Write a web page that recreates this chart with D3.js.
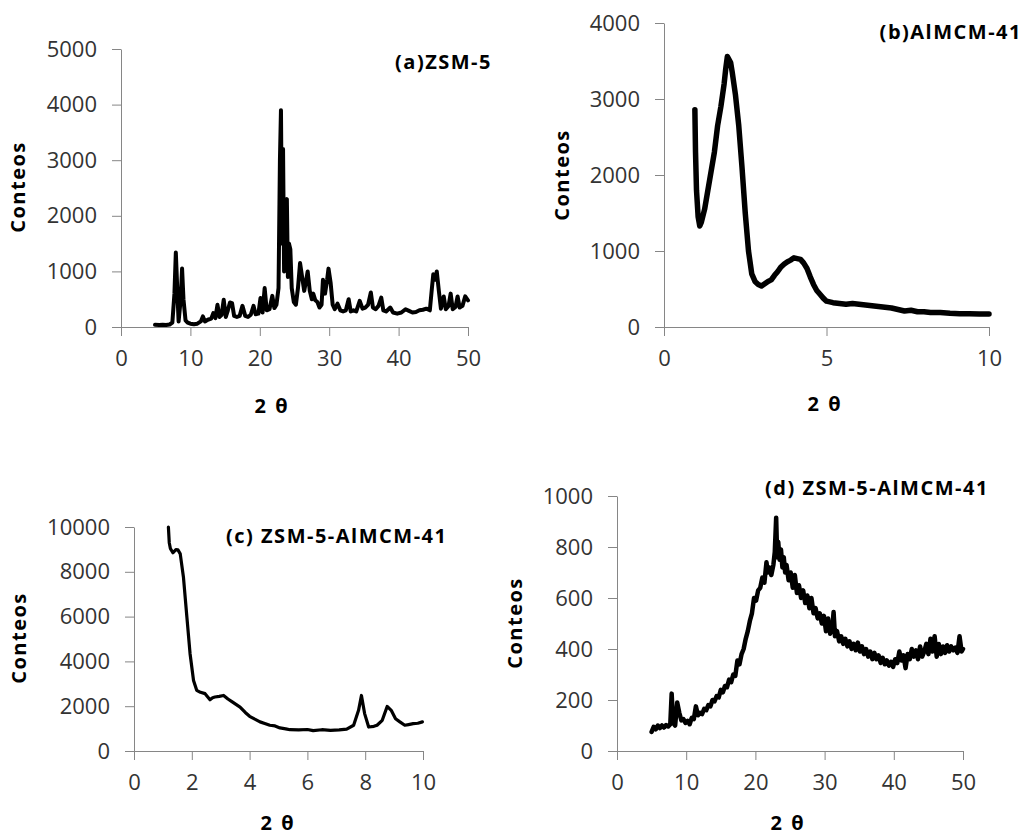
<!DOCTYPE html>
<meta charset="utf-8">
<style>
body { margin: 0; background: #fff; }
.tick text { font: 22px "Open Sans", sans-serif; fill: #333; }
.axis path, .axis line { stroke: #868686; }
.lbl { font: bold 20px "Open Sans", sans-serif; fill: #000; letter-spacing: 1.5px; }
</style>
<body>
<script src="https://cdn.jsdelivr.net/npm/d3@7"></script>
<script>

// (a) ZSM-5
var zsm5 = [[4.9,40],[5.5,35],[6,40],[6.5,35],[7,45],[7.4,80],[7.7,600],[7.9,1340],[8.1,700],[8.3,100],[8.6,500],[8.8,1050],[9.0,500],[9.3,120],[9.6,80],[10,60],[10.5,50],[11,60],[11.5,100],[11.8,190],[12.1,100],[12.5,130],[13,150],[13.3,250],[13.6,160],[13.9,400],[14.2,180],[14.5,220],[14.8,490],[15.1,180],[15.4,300],[15.7,440],[16,430],[16.3,200],[16.7,180],[17.1,200],[17.5,380],[17.9,200],[18.3,180],[18.7,220],[19.1,380],[19.4,230],[19.8,240],[20.1,520],[20.4,260],[20.7,700],[21,300],[21.4,320],[21.8,560],[22.1,340],[22.4,400],[22.7,700],[22.9,3000],[23.05,3900],[23.2,1500],[23.35,3200],[23.5,1000],[23.7,2200],[23.9,2300],[24.05,900],[24.2,1500],[24.4,1400],[24.6,700],[24.9,450],[25.2,400],[25.5,700],[25.8,1150],[26.1,900],[26.4,650],[26.7,850],[26.9,1000],[27.2,650],[27.5,500],[27.7,600],[28,480],[28.3,450],[28.6,350],[28.9,400],[29.1,850],[29.4,600],[29.7,850],[29.9,1050],[30.2,800],[30.5,400],[30.8,320],[31.2,420],[31.6,300],[32,280],[32.4,300],[32.8,500],[33.1,280],[33.5,300],[33.9,280],[34.4,470],[34.8,330],[35.2,350],[35.6,400],[36,620],[36.3,350],[36.7,320],[37.1,380],[37.5,530],[37.8,300],[38.2,280],[38.8,350],[39.2,260],[39.8,240],[40.4,260],[41,320],[41.5,290],[42,260],[42.5,270],[43,300],[43.5,310],[44,330],[44.5,300],[44.8,700],[45,950],[45.3,850],[45.5,1000],[45.8,650],[46.1,330],[46.5,550],[46.8,320],[47.2,380],[47.5,600],[47.8,320],[48.2,360],[48.5,550],[48.8,350],[49.2,380],[49.6,550],[50,480]];

// (b) AlMCM-41
var almcm41 = [[0.95,2860],[0.97,2300],[1.0,1800],[1.05,1450],[1.1,1330],[1.15,1380],[1.25,1550],[1.35,1800],[1.45,2050],[1.55,2300],[1.65,2650],[1.75,2900],[1.85,3200],[1.9,3400],[1.95,3560],[2.0,3520],[2.05,3480],[2.1,3350],[2.2,3050],[2.3,2650],[2.4,2100],[2.5,1500],[2.6,1000],[2.7,700],[2.8,600],[2.9,560],[3.0,540],[3.1,570],[3.2,600],[3.3,620],[3.4,680],[3.5,730],[3.6,790],[3.7,830],[3.8,860],[3.9,880],[4.0,910],[4.1,900],[4.2,890],[4.3,840],[4.4,770],[4.5,660],[4.6,560],[4.7,480],[4.8,430],[4.9,380],[5.0,340],[5.2,320],[5.4,310],[5.6,300],[5.8,310],[6.0,300],[6.2,290],[6.4,280],[6.6,270],[6.8,260],[7.0,250],[7.2,230],[7.4,210],[7.6,220],[7.8,200],[8.0,200],[8.2,190],[8.5,190],[8.8,180],[9.1,175],[9.4,175],[9.7,170],[10,170]];

// (c) ZSM-5-AlMCM-41, bajo angulo
var compLow = [[1.19,10000],[1.22,9300],[1.26,9030],[1.35,8850],[1.45,8990],[1.52,8980],[1.6,8800],[1.71,7770],[1.83,5980],[1.94,4345],[2.06,3150],[2.17,2710],[2.3,2620],[2.46,2560],[2.63,2290],[2.72,2380],[2.8,2410],[2.95,2440],[3.1,2480],[3.25,2320],[3.4,2190],[3.67,1960],[3.85,1720],[4.0,1550],[4.18,1420],[4.36,1300],[4.55,1220],[4.7,1150],[4.88,1120],[5.05,1030],[5.25,990],[5.4,950],[5.7,940],[6.0,960],[6.2,910],[6.5,950],[6.8,920],[7.1,940],[7.36,980],[7.6,1150],[7.77,1815],[7.87,2480],[7.98,1670],[8.12,1070],[8.3,1100],[8.41,1150],[8.59,1370],[8.76,1990],[8.9,1815],[9.05,1440],[9.2,1300],[9.37,1150],[9.5,1180],[9.66,1220],[9.82,1240],[9.98,1300]];

// (d) ZSM-5-AlMCM-41, alto angulo
var compHigh = [[5.0,75],[5.3,95],[5.6,85],[5.9,100],[6.2,90],[6.5,100],[6.8,92],[7.1,102],[7.4,96],[7.7,105],[7.9,225],[8.1,110],[8.4,100],[8.7,190],[9.0,150],[9.3,120],[9.6,125],[9.9,110],[10.2,118],[10.5,105],[10.8,130],[11.1,125],[11.4,175],[11.7,140],[12.0,150],[12.3,145],[12.6,165],[12.9,160],[13.2,180],[13.5,175],[13.8,200],[14.1,195],[14.4,215],[14.7,210],[15.0,240],[15.3,230],[15.6,255],[15.9,250],[16.2,280],[16.5,270],[16.8,300],[17.1,295],[17.4,355],[17.7,340],[18.0,380],[18.3,400],[18.6,440],[18.9,470],[19.2,510],[19.5,540],[19.8,600],[20.1,590],[20.4,630],[20.7,640],[21.0,680],[21.3,660],[21.6,740],[21.8,700],[22.0,720],[22.3,690],[22.6,730],[22.8,780],[23.0,915],[23.15,760],[23.3,820],[23.5,750],[23.7,790],[23.9,720],[24.1,760],[24.3,700],[24.5,730],[24.8,670],[25.1,700],[25.4,640],[25.7,690],[26.0,620],[26.3,650],[26.6,600],[26.9,630],[27.2,580],[27.5,610],[27.8,560],[28.1,600],[28.4,540],[28.7,560],[29.0,520],[29.3,540],[29.6,500],[29.9,530],[30.2,470],[30.5,520],[30.8,460],[31.1,480],[31.3,545],[31.5,450],[31.8,470],[32.1,430],[32.4,450],[32.7,420],[33.0,440],[33.3,410],[33.6,430],[33.9,400],[34.2,420],[34.5,395],[34.8,425],[35.1,390],[35.4,410],[35.7,380],[36.0,400],[36.3,370],[36.6,390],[36.9,360],[37.2,385],[37.5,360],[37.8,375],[38.1,345],[38.4,365],[38.7,340],[39.0,355],[39.3,335],[39.6,350],[39.9,330],[40.2,360],[40.5,345],[40.8,390],[41.1,355],[41.4,375],[41.7,325],[42.0,380],[42.3,360],[42.6,400],[42.9,370],[43.2,395],[43.5,360],[43.8,410],[44.1,370],[44.4,390],[44.7,420],[45.0,380],[45.3,440],[45.6,390],[45.9,450],[46.2,370],[46.5,420],[46.8,380],[47.1,410],[47.4,385],[47.7,415],[48.0,390],[48.3,410],[48.6,395],[48.9,405],[49.2,385],[49.5,450],[49.8,390],[50.0,400]];

var titles = ["(a)ZSM-5", "(b)AlMCM-41", "(c) ZSM-5-AlMCM-41", "(d) ZSM-5-AlMCM-41"];
var xTicksA = [0, 10, 20, 30, 40, 50], yTicksA = [0, 1000, 2000, 3000, 4000, 5000];
var xTicksB = [0, 5, 10], yTicksB = [0, 1000, 2000, 3000, 4000];
var xTicksC = [0, 2, 4, 6, 8, 10], yTicksC = [0, 2000, 4000, 6000, 8000, 10000];
var xTicksD = [0, 10, 20, 30, 40, 50], yTicksD = [0, 200, 400, 600, 800, 1000];

var panels = [
  {data: zsm5, title: titles[0], xt: xTicksA, yt: yTicksA, l: 121, r: 468, t: 49, b: 327, w: 4,
   yl: [18, 187], xl: [272, 406], tl: [492, 62, "end"]},
  {data: almcm41, title: titles[1], xt: xTicksB, yt: yTicksB, l: 664, r: 989, t: 23, b: 327, w: 5.5,
   yl: [562, 175], xl: [825, 404], tl: [1022, 32, "end"]},
  {data: compLow, title: titles[2], xt: xTicksC, yt: yTicksC, l: 134, r: 423, t: 527, b: 751, w: 3.2,
   yl: [19, 638], xl: [278, 823], tl: [226, 536, "start"]},
  {data: compHigh, title: titles[3], xt: xTicksD, yt: yTicksD, l: 617, r: 963, t: 496, b: 751, w: 4.5,
   yl: [515, 623], xl: [788, 823], tl: [765, 488, "start"]}
];

var svg = d3.select("body").append("svg")
    .attr("width", 1026)
    .attr("height", 837);

panels.forEach(function(p) {
  var x = d3.scaleLinear()
      .domain([p.xt[0], p.xt[p.xt.length - 1]])
      .range([p.l, p.r]);
  var y = d3.scaleLinear()
      .domain([p.yt[0], p.yt[p.yt.length - 1]])
      .range([p.b, p.t]);

  svg.append("g")
      .attr("class", "axis")
      .attr("transform", "translate(0," + p.b + ")")
      .call(d3.axisBottom(x).tickValues(p.xt).tickFormat(d3.format("d"))
          .tickSize(9).tickPadding(14).tickSizeOuter(0))
      .call(function(g) { g.select(".domain").attr("d", "M" + (p.l - 9) + ",0.5H" + p.r); });

  svg.append("g")
      .attr("class", "axis")
      .attr("transform", "translate(" + p.l + ",0)")
      .call(d3.axisLeft(y).tickValues(p.yt).tickFormat(d3.format("d"))
          .tickSize(9).tickPadding(15).tickSizeOuter(0));

  svg.append("path")
      .datum(p.data)
      .attr("fill", "none")
      .attr("stroke", "#000")
      .attr("stroke-width", p.w)
      .attr("stroke-linejoin", "round")
      .attr("stroke-linecap", "round")
      .attr("d", d3.line()
          .x(function(d) { return x(d[0]); })
          .y(function(d) { return y(d[1]); }));

  svg.append("text")
      .attr("class", "lbl")
      .attr("transform", "translate(" + p.yl[0] + "," + p.yl[1] + ") rotate(-90)")
      .attr("text-anchor", "middle")
      .attr("dy", "0.35em")
      .text("Conteos");

  svg.append("text")
      .attr("class", "lbl")
      .attr("x", p.xl[0])
      .attr("y", p.xl[1])
      .attr("text-anchor", "middle")
      .attr("dy", "0.35em")
      .style("letter-spacing", "2px")
      .text("2 θ");

  svg.append("text")
      .attr("class", "lbl")
      .attr("x", p.tl[0])
      .attr("y", p.tl[1])
      .attr("text-anchor", p.tl[2])
      .attr("dy", "0.35em")
      .text(p.title);
});

</script>
